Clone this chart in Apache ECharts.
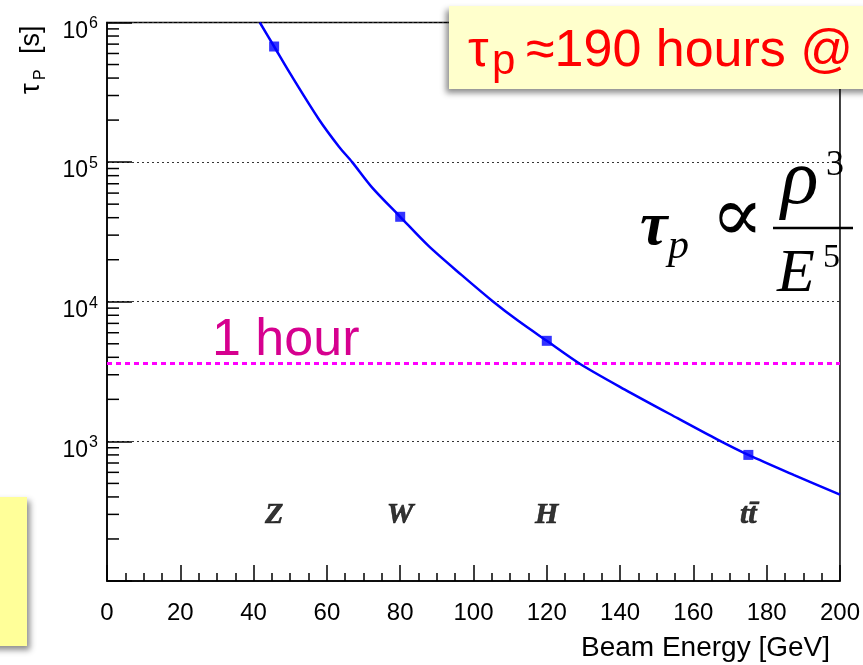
<!DOCTYPE html>
<html>
<head>
<meta charset="utf-8">
<script src="https://cdn.jsdelivr.net/npm/echarts@6/dist/echarts.min.js"></script>
<style>
  html, body { margin: 0; padding: 0; background: #fff; }
  #chart { width: 863px; height: 665px; }
</style>
</head>
<body>
<div id="chart"></div>
<script>
// Curve: beam energy [GeV] vs polarization time [s]
const energy = [41.7, 45.6, 50, 57.8, 63.3, 66.9, 72.3, 80, 87.8, 96.8, 105.4, 112.2, 120, 129, 141.3, 155.8, 166.6, 175, 187.5, 200];
const tau = [1.0e6, 6.73e5, 4.3e5, 2.03e5, 1.29e5, 1.0e5, 6.6e4, 4.06e4, 2.5e4, 1.55e4, 1.0e4, 7.3e3, 5.25e3, 3.6e3, 2.35e3, 1.46e3, 1.03e3, 800, 573, 415];

// Operating points
const pointNames = ['Z', 'W', 'H', 't\u0074\u0304'];
const pointEnergy = [45.6, 80, 120, 175];
const pointTau = [6.73e5, 4.06e4, 5.25e3, 800];
const labelTau = 296;

// One hour reference line [s]
const oneHour = 3600;

// Log-axis minor tick values
const minorTickValues = [];
[100, 1000, 10000, 100000].forEach(d => { for (let k = 2; k <= 9; k++) minorTickValues.push(k * d); });

const SANS = 'Liberation Sans, Arial, sans-serif';
const SERIF = 'Liberation Serif, Times New Roman, DejaVu Serif, serif';

const chart = echarts.init(document.getElementById('chart'));

const option = {
  animation: false,
  backgroundColor: '#fff',
  grid: { left: 107, right: 20.5, top: 22.5, bottom: 84, show: true, borderColor: '#000', borderWidth: 1.5, backgroundColor: 'transparent' },
  xAxis: {
    type: 'value', min: 0, max: 200, interval: 20,
    axisLine: { lineStyle: { color: '#000', width: 1.5 } },
    axisTick: { inside: true, length: 16, lineStyle: { color: '#000', width: 1.5 } },
    minorTick: { show: true, splitNumber: 4, length: 8, lineStyle: { color: '#000', width: 1.5 } },
    axisLabel: { color: '#000', fontFamily: SANS, fontSize: 24, margin: 20 },
    splitLine: { show: false }
  },
  yAxis: {
    type: 'log', logBase: 10, min: 100, max: 1e6,
    axisLine: { lineStyle: { color: '#000', width: 1.5 } },
    axisTick: { inside: true, length: 25, lineStyle: { color: '#000', width: 1.5 } },
    axisLabel: {
      margin: 9,
      formatter: v => { const e = Math.round(Math.log10(v)); return e < 3 ? '' : '{b|10}{s|' + e + '}'; },
      rich: {
        b: { fontFamily: SANS, fontSize: 23, lineHeight: 23, color: '#000', verticalAlign: 'top', padding: [9, 0, 0, 0] },
        s: { fontFamily: SANS, fontSize: 16, lineHeight: 16, color: '#000', verticalAlign: 'top', padding: [5, 0, 0, 1] }
      }
    },
    splitLine: { show: true, lineStyle: { color: '#333', width: 1, type: [2, 3] } }
  },
  series: [
    {
      type: 'custom',
      silent: true,
      data: minorTickValues.map(v => [0, v]),
      renderItem: (params, api) => {
        const p = api.coord([0, api.value(1)]);
        return { type: 'line', shape: { x1: p[0], y1: p[1], x2: p[0] + 12, y2: p[1] }, style: { stroke: '#000', lineWidth: 1.5 } };
      },
      z: 3
    },
    {
      type: 'line',
      data: energy.map((e, i) => [e, tau[i]]),
      smooth: 0.3,
      showSymbol: false,
      symbol: 'none',
      lineStyle: { color: '#0000ff', width: 2.5 },
      z: 5,
      markLine: {
        silent: true,
        symbol: 'none',
        data: [{ yAxis: oneHour }],
        lineStyle: { color: '#ff00ff', width: 3, type: [5, 4] },
        label: { show: false }
      }
    },
    {
      type: 'scatter',
      data: pointEnergy.map((e, i) => [e, pointTau[i]]),
      symbol: 'rect',
      symbolSize: 10,
      itemStyle: { color: '#0000ff' },
      z: 6
    },
    {
      type: 'scatter',
      data: pointEnergy.map((e, i) => [e, labelTau, pointNames[i]]),
      symbolSize: 0,
      silent: true,
      label: {
        show: true, position: 'inside',
        formatter: p => p.data[2],
        fontFamily: SERIF, fontStyle: 'italic', fontWeight: 'bold', fontSize: 30, color: '#000',
        textBorderColor: '#000', textBorderWidth: 0.6
      },
      z: 6
    }
  ],
  graphic: [
    // y-axis title, rotated
    {
      type: 'group', x: 40, y: 58, rotation: Math.PI / 2,
      children: [
        { type: 'text', x: -36, y: -8, style: { text: 'τ', fontFamily: SANS, fontSize: 27, fill: '#000', align: 'left', verticalAlign: 'middle' } },
        { type: 'text', x: -22, y: 1, style: { text: 'P', fontFamily: SANS, fontSize: 16, fill: '#000', align: 'left', verticalAlign: 'middle' } },
        { type: 'text', x: 4, y: -8, style: { text: '[s]', fontFamily: SANS, fontSize: 27, fill: '#000', align: 'left', verticalAlign: 'middle' } }
      ]
    },
    // x-axis title
    { type: 'text', x: 830, y: 648, style: { text: 'Beam Energy [GeV]', fontFamily: SANS, fontSize: 28, fill: '#000', align: 'right', verticalAlign: 'middle' } },
    // "1 hour"
    { type: 'text', x: 212, y: 341, z: 10, style: { text: '1 hour', fontFamily: SANS, fontSize: 52, fill: '#d6008f', align: 'left', verticalAlign: 'middle' } },
    // top-right yellow box
    { type: 'rect', z: 20, shape: { x: 449, y: 6, width: 430, height: 83 },
      style: { fill: '#ffffcc', shadowColor: 'rgba(0,0,0,0.45)', shadowBlur: 6, shadowOffsetX: -3, shadowOffsetY: 4 } },
    { type: 'text', z: 21, x: 468, y: 52, style: { text: 'τ', fontFamily: SANS, fontSize: 52, fill: '#ff0000', align: 'left', verticalAlign: 'middle' } },
    { type: 'text', z: 21, x: 492, y: 62, style: { text: 'p', fontFamily: SANS, fontSize: 42, fill: '#ff0000', align: 'left', verticalAlign: 'middle' } },
    { type: 'text', z: 21, x: 526, y: 52, style: { text: '≈190 hours @', fontFamily: SANS, fontSize: 52, fill: '#ff0000', align: 'left', verticalAlign: 'middle' } },
    // lower-left yellow box
    { type: 'rect', z: 20, shape: { x: -20, y: 497, width: 47, height: 149 },
      style: { fill: '#ffff99', shadowColor: 'rgba(0,0,0,0.45)', shadowBlur: 6, shadowOffsetX: 3, shadowOffsetY: 4 } },
    // formula tau_p ∝ rho^3 / E^5
    { type: 'text', z: 10, x: 640, y: 228, style: { text: 'τ', fontFamily: SERIF, fontStyle: 'italic', fontWeight: 'bold', fontSize: 62, fill: '#000', align: 'left', verticalAlign: 'middle' } },
    { type: 'text', z: 10, x: 668, y: 247, style: { text: 'p', fontFamily: SERIF, fontStyle: 'italic', fontSize: 42, fill: '#000', align: 'left', verticalAlign: 'middle' } },
    { type: 'text', z: 10, x: 711, y: 221, style: { text: '∝', fontFamily: SERIF, fontSize: 78, fill: '#000', align: 'left', verticalAlign: 'middle' } },
    { type: 'line', z: 10, shape: { x1: 773, y1: 228, x2: 853, y2: 228 }, style: { stroke: '#000', lineWidth: 2.5 } },
    { type: 'text', z: 10, x: 781, y: 182, style: { text: 'ρ', fontFamily: SERIF, fontStyle: 'italic', fontSize: 78, fill: '#000', align: 'left', verticalAlign: 'middle' } },
    { type: 'text', z: 10, x: 826, y: 166, style: { text: '3', fontFamily: SERIF, fontSize: 36, fill: '#000', align: 'left', verticalAlign: 'middle' } },
    { type: 'text', z: 10, x: 777, y: 275, style: { text: 'E', fontFamily: SERIF, fontStyle: 'italic', fontSize: 62, fill: '#000', align: 'left', verticalAlign: 'middle' } },
    { type: 'text', z: 10, x: 823, y: 258, style: { text: '5', fontFamily: SERIF, fontSize: 34, fill: '#000', align: 'left', verticalAlign: 'middle' } }
  ]
};

chart.setOption(option);
</script>
</body>
</html>
